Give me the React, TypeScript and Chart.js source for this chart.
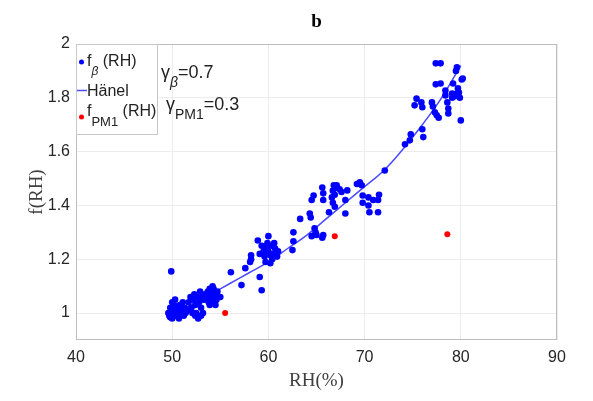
import React, { useEffect, useRef } from "react";
import { Chart, registerables } from "chart.js";

Chart.register(...registerables);

const xTicks = [40, 50, 60, 70, 80, 90];
const yTicks = [1, 1.2, 1.4, 1.6, 1.8, 2];

const fBetaRH = [
  49.6, 49.7, 49.8, 49.9, 50.0, 50.1, 50.2, 50.3, 50.4, 50.5, 50.6, 50.7, 50.8, 50.9, 51.0, 51.1, 51.2, 51.3, 51.4, 50.0, 50.3, 49.8, 51.6,
  49.9,
  51.7, 51.9, 52.0, 52.2, 52.3, 52.4, 52.5, 52.6, 52.7, 52.8, 52.9, 53.0, 53.1, 53.2, 53.3, 53.4, 52.1, 52.4, 53.0,
  53.6, 53.7, 53.8, 53.9, 54.0, 54.1, 54.2, 54.3, 54.4, 54.5, 54.6, 54.7, 54.8, 54.2, 53.9, 54.5, 55.0,
  56.1, 57.2, 57.6, 58.1, 58.2, 58.2, 58.9, 59.1, 59.3, 60.0,
  59.1, 59.3, 59.5, 59.6, 59.8, 60.0, 60.2, 60.3, 60.5, 60.7, 60.9, 60.2, 59.7, 61.0, 60.4, 59.9, 60.6,
  62.5, 62.6, 62.6, 63.3, 64.3, 64.4, 64.5, 64.7, 64.8, 64.9, 64.5, 65.0, 65.7, 65.6, 65.6, 65.7, 65.7, 66.3, 66.6, 66.7, 66.9, 67.0, 66.8, 67.1, 66.7, 66.9, 67.4, 67.6, 68.2, 68.0, 68.0, 69.2, 69.5, 69.7, 69.8, 69.8, 70.4, 70.4, 70.5, 70.9, 71.4, 71.5, 71.4, 72.1,
  74.2, 74.7, 74.8, 76.0, 76.1, 75.2, 75.4, 75.9, 76.0, 77.0, 77.1, 77.3, 77.5, 77.7, 77.4, 77.9, 77.4, 77.9, 78.4, 78.4, 78.6, 78.7, 78.7, 79.1, 79.2, 79.3, 79.5, 79.6, 79.7, 79.8, 79.9, 80.1, 80.2, 80.0, 79.1, 79.6,
];
const fBetaVal = [
  1.0, 0.99, 1.02, 1.0, 0.98, 1.01, 1.03, 0.99, 1.01, 1.0, 1.02, 0.98, 1.03, 1.0, 1.01, 1.04, 0.99, 1.02, 1.0, 1.04, 1.05, 0.985, 1.01,
  1.155,
  1.04, 1.06, 1.02, 1.05, 1.07, 1.03, 1.0, 1.06, 0.98, 1.04, 1.08, 1.02, 1.06, 1.0, 1.05, 1.07, 1.0, 0.99, 0.99,
  1.06, 1.08, 1.04, 1.09, 1.06, 1.07, 1.05, 1.09, 1.04, 1.07, 1.05, 1.08, 1.06, 1.1, 1.03, 1.03, 1.06,
  1.152, 1.104, 1.167, 1.19, 1.2, 1.215, 1.27, 1.134, 1.085, 1.286,
  1.22, 1.25, 1.23, 1.21, 1.245, 1.23, 1.215, 1.25, 1.22, 1.24, 1.21, 1.185, 1.19, 1.23, 1.2, 1.26, 1.26,
  1.234, 1.267, 1.3, 1.35, 1.37, 1.355, 1.42, 1.437, 1.315, 1.3, 1.286, 1.29, 1.29, 1.28, 1.467, 1.445, 1.42, 1.375, 1.43, 1.455, 1.44, 1.465, 1.475, 1.475, 1.41, 1.395, 1.46, 1.45, 1.456, 1.42, 1.37, 1.48, 1.486, 1.475, 1.437, 1.41, 1.43, 1.4, 1.375, 1.42, 1.42, 1.44, 1.375, 1.53,
  1.627, 1.642, 1.664, 1.683, 1.654, 1.772, 1.797, 1.783, 1.765, 1.783, 1.768, 1.746, 1.735, 1.726, 1.928, 1.928, 1.85, 1.853, 1.827, 1.809, 1.783, 1.76, 1.742, 1.816, 1.853, 1.805, 1.9, 1.913, 1.835, 1.82, 1.8, 1.868, 1.872, 1.716, 1.8, 1.816,
];

const hanelRH = [50, 52, 54, 56, 58, 60, 62, 64, 66, 68, 70, 72, 74, 76, 78, 80];
const hanelVal = [1.0, 1.03, 1.07, 1.11, 1.15, 1.19, 1.24, 1.29, 1.35, 1.41, 1.47, 1.53, 1.61, 1.7, 1.8, 1.92];

const fPM1RH = [55.5, 66.9, 78.6];
const fPM1Val = [1.0, 1.286, 1.293];

const SANS = "'Liberation Sans', Arial, sans-serif";
const SERIF = "'Liberation Serif', 'Times New Roman', serif";

function drawSub(
  ctx: CanvasRenderingContext2D,
  parts: { t: string; sub?: boolean; italic?: boolean }[],
  x: number,
  y: number,
  size: number,
  subSize: number,
  subDy: number
) {
  let cx = x;
  for (const p of parts) {
    const s = p.sub ? subSize : size;
    ctx.font = `${p.italic ? "italic " : ""}${s}px ${SANS}`;
    ctx.fillText(p.t, cx, p.sub ? y + subDy : y);
    cx += ctx.measureText(p.t).width;
  }
}

const overlay = {
  id: "overlay",
  afterDraw(chart: any) {
    const { ctx, chartArea } = chart;
    const { left, top, right, bottom } = chartArea;
    ctx.save();
    ctx.strokeStyle = "#bdbdbd";
    ctx.lineWidth = 1;
    ctx.strokeRect(left + 0.5, top + 0.5, right - left - 1, bottom - top - 1);
    ctx.fillStyle = "#000";
    ctx.font = `bold 19px ${SERIF}`;
    ctx.textAlign = "center";
    ctx.textBaseline = "alphabetic";
    ctx.fillText("b", (left + right) / 2, 27);
    ctx.textAlign = "left";
    const lx = left, ly = top, lw = 81, lh = 90;
    ctx.fillStyle = "#fff";
    ctx.fillRect(lx + 1, ly + 1, lw, lh);
    ctx.strokeStyle = "#c8c8c8";
    ctx.strokeRect(lx + 0.5, ly + 0.5, lw, lh);
    ctx.fillStyle = "#0000ff";
    ctx.beginPath();
    ctx.arc(lx + 5.5, ly + 18, 2.5, 0, Math.PI * 2);
    ctx.fill();
    ctx.fillStyle = "#222";
    drawSub(ctx, [{ t: "f" }, { t: "β", sub: true, italic: true }, { t: " (RH)" }], lx + 11, ly + 22, 16, 12, 9);
    ctx.strokeStyle = "#4a4aff";
    ctx.lineWidth = 1.5;
    ctx.beginPath();
    ctx.moveTo(lx + 1, ly + 46.5);
    ctx.lineTo(lx + 11, ly + 46.5);
    ctx.stroke();
    ctx.fillStyle = "#222";
    drawSub(ctx, [{ t: "Hänel" }], lx + 11, ly + 52, 16, 12, 0);
    ctx.fillStyle = "#ff0000";
    ctx.beginPath();
    ctx.arc(lx + 5.5, ly + 73, 2.5, 0, Math.PI * 2);
    ctx.fill();
    ctx.fillStyle = "#222";
    drawSub(ctx, [{ t: "f" }, { t: "PM1", sub: true }, { t: " (RH)" }], lx + 11, ly + 72, 16, 13, 10);
    ctx.fillStyle = "#222";
    drawSub(ctx, [{ t: "γ" }, { t: "β", sub: true, italic: true }, { t: "=0.7" }], 161, 78, 18, 14, 9);
    drawSub(ctx, [{ t: "γ" }, { t: "PM1", sub: true }, { t: "=0.3" }], 166, 110, 18, 14, 9);
    ctx.restore();
  },
};

export default function App() {
  const ref = useRef<HTMLCanvasElement | null>(null);
  useEffect(() => {
    document.body.style.margin = "0";
    const canvas = ref.current;
    if (!canvas) return;
    const chart = new Chart(canvas, {
      type: "scatter",
      data: {
        datasets: [
          {
            label: "Hänel",
            data: hanelRH.map((x, i) => ({ x, y: hanelVal[i] })),
            showLine: true,
            borderColor: "#4a4aff",
            borderWidth: 1.5,
            pointRadius: 0,
            tension: 0.4,
            order: 2,
          },
          {
            label: "fβ (RH)",
            data: fBetaRH.map((x, i) => ({ x, y: fBetaVal[i] })),
            backgroundColor: "#0000ff",
            borderColor: "#0000ff",
            pointRadius: 3.3,
            borderWidth: 0,
            order: 1,
          },
          {
            label: "fPM1 (RH)",
            data: fPM1RH.map((x, i) => ({ x, y: fPM1Val[i] })),
            backgroundColor: "#ff0000",
            borderColor: "#ff0000",
            pointRadius: 3,
            borderWidth: 0,
            order: 0,
          },
        ],
      },
      options: {
        animation: false,
        responsive: false,
        layout: { padding: { top: 44, right: 36, left: 0, bottom: 0 } },
        plugins: { legend: { display: false }, tooltip: { enabled: false }, title: { display: false } },
        scales: {
          x: {
            type: "linear",
            min: 40,
            max: 90,
            afterBuildTicks: (s: any) => {
              s.ticks = xTicks.map((v) => ({ value: v }));
            },
            afterFit: (s: any) => {
              s.height = 61;
            },
            ticks: { color: "#262626", font: { family: SANS, size: 16 }, padding: 8, maxRotation: 0 },
            grid: { color: "#ececec", drawTicks: false },
            border: { display: false },
            title: {
              display: true,
              text: "RH(%)",
              color: "#404040",
              font: { family: SERIF, size: 19 },
              padding: { top: 0, bottom: 9 },
            },
          },
          y: {
            type: "linear",
            min: 0.9,
            max: 2,
            afterBuildTicks: (s: any) => {
              s.ticks = yTicks.map((v) => ({ value: v }));
            },
            afterFit: (s: any) => {
              s.width = 76;
            },
            ticks: {
              color: "#262626",
              font: { family: SANS, size: 16 },
              padding: 6,
              callback: (v: any) => String(Math.round(Number(v) * 10) / 10),
            },
            grid: { color: "#ececec", drawTicks: false },
            border: { display: false },
            title: {
              display: true,
              text: "f(RH)",
              color: "#404040",
              font: { family: SERIF, size: 19 },
              padding: { top: 26, bottom: 0 },
            },
          },
        },
      },
      plugins: [overlay],
    } as any);
    return () => chart.destroy();
  }, []);
  return <canvas ref={ref} width={593} height={401} style={{ display: "block" }} />;
}
